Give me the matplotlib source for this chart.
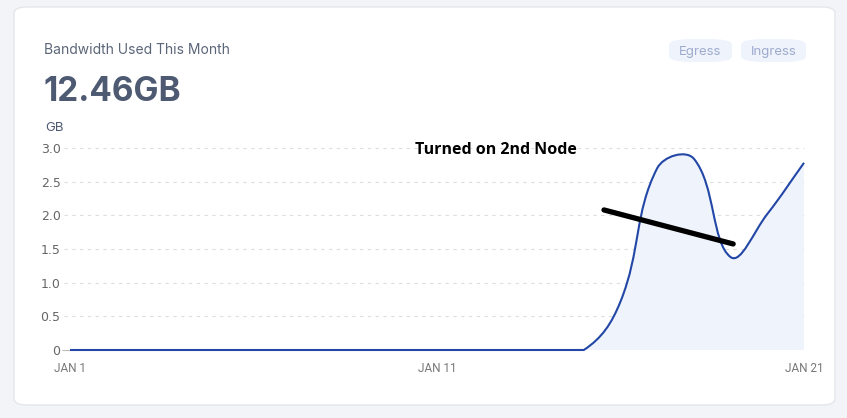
import numpy as np
import matplotlib.pyplot as plt
from matplotlib.path import Path
from matplotlib.patches import PathPatch, FancyBboxPatch

# daily bandwidth, GB (JAN 1 .. JAN 21)
days = list(range(1, 22))
daily_gb = [0, 0, 0, 0, 0, 0, 0, 0, 0, 0, 0, 0, 0, 0, 0,
            0.72, 2.70, 2.84, 1.38, 2.02, 2.78]
x_ticks = [1, 11, 21]
x_labels = ['JAN 1', 'JAN 11', 'JAN 21']
y_ticks = [0, 0.5, 1.0, 1.5, 2.0, 2.5, 3.0]
y_labels = ['0', '0.5', '1.0', '1.5', '2.0', '2.5', '3.0']
total_label = '12.46GB'
note_text = 'Turned on 2nd Node'
note_line_x = [15.55, 19.07]
note_line_y = [2.08, 1.575]

LINE = '#2247a6'
FILL = '#eff3fc'
GRAY = '#666666'

fig = plt.figure(figsize=(8.47, 4.18), dpi=100)
fig.patch.set_facecolor('#f3f4f8')

# card
card = FancyBboxPatch((14 / 847, 13 / 418), 821 / 847, 398 / 418,
                      boxstyle='round,pad=0,rounding_size=0.015',
                      transform=fig.transFigure, facecolor='white',
                      edgecolor='#e4e6ec', linewidth=1.0, zorder=-5)
fig.patches.append(card)

fig.text(44 / 847, 1 - 50 / 418, 'Bandwidth Used This Month', fontsize=10,
         color='#5c6679', family='Inter', va='center')
fig.text(43 / 847, 1 - 92 / 418, total_label, fontsize=24, fontweight='bold',
         color='#4e5a72', family='Inter', va='center')
fig.text(45 / 847, 1 - 128 / 418, 'GB', fontsize=9.5, color='#4e5a72',
         family='Inter', va='center')

# pill buttons
for label, x0, w in [('Egress', 669, 63), ('Ingress', 741, 65)]:
    pill = FancyBboxPatch((x0 / 847, 1 - 62 / 418), w / 847, 23 / 418,
                          boxstyle='round,pad=0,rounding_size=0.0275',
                          transform=fig.transFigure, facecolor='#eef3fc',
                          edgecolor='none', mutation_aspect=418 / 847,
                          zorder=-4)
    fig.patches.append(pill)
    fig.text((x0 + w / 2) / 847, 1 - 51.5 / 418, label, fontsize=9.5,
             color='#9eabcd', family='Inter', ha='center', va='center')

ax = fig.add_axes([70 / 847, 68 / 418, 734 / 847, 202 / 418])
ax.set_xlim(1, 21)
ax.set_ylim(0, 3.0)
for s in ax.spines.values():
    s.set_visible(False)
ax.set_facecolor('none')

ax.set_yticks(y_ticks)
ax.set_yticklabels(y_labels)
ax.set_xticks(x_ticks)
ax.set_xticklabels(x_labels)
ax.tick_params(axis='y', length=6, color='#bbbbbb', pad=0.8, labelsize=9,
               labelcolor=GRAY)
ax.tick_params(axis='x', length=0, pad=9, labelsize=8.5, labelcolor='#777777')
for lab in ax.get_xticklabels():
    lab.set_family(['Liberation Sans Narrow', 'Roboto'])
for i, t in enumerate(ax.yaxis.get_major_ticks()):
    if i > 0:
        t.tick1line.set_visible(False)
for y in y_ticks[1:]:
    ax.axhline(y, color='#dddddd', linestyle=(0, (3, 4)), linewidth=0.8,
               xmin=-0.008, zorder=0, clip_on=False)

# smooth line through daily points (tension spline, pixel space)
pts = ax.transData.transform(np.column_stack([days, daily_gb]))
tension = 0.4
n = len(pts)
cp_in = np.zeros_like(pts)
cp_out = np.zeros_like(pts)
for i in range(n):
    prev = pts[i - 1] if i > 0 else pts[i]
    nxt = pts[i + 1] if i < n - 1 else pts[i]
    d01 = np.hypot(*(pts[i] - prev))
    d12 = np.hypot(*(nxt - pts[i]))
    tot = d01 + d12
    s01 = d01 / tot if tot else 0
    s12 = d12 / tot if tot else 0
    cp_in[i] = pts[i] - tension * s01 * (nxt - prev)
    cp_out[i] = pts[i] + tension * s12 * (nxt - prev)
y0_pix = ax.transData.transform((1, 0))[1]
cp_in[:, 1] = np.maximum(cp_in[:, 1], y0_pix)
cp_out[:, 1] = np.maximum(cp_out[:, 1], y0_pix)

verts = [pts[0]]
codes = [Path.MOVETO]
for i in range(n - 1):
    verts += [cp_out[i], cp_in[i + 1], pts[i + 1]]
    codes += [Path.CURVE4] * 3
inv = ax.transData.inverted()
verts_d = inv.transform(np.array(verts))

line_path = Path(verts_d, codes)
fill_path = Path(np.vstack([verts_d, [[days[-1], 0], [days[0], 0], [days[0], 0]]]),
                 codes + [Path.LINETO, Path.LINETO, Path.CLOSEPOLY])
ax.add_patch(PathPatch(fill_path, facecolor=FILL, edgecolor='none', zorder=1))
ax.add_patch(PathPatch(line_path, facecolor='none', edgecolor=LINE,
                       linewidth=1.5, zorder=3, capstyle='butt',
                       clip_on=False))

# annotation
ax.plot(note_line_x, note_line_y, color='black', linewidth=3.8,
        solid_capstyle='round', zorder=4)
ax.text(12.6, 2.97, note_text, fontsize=11.5, fontweight='bold', color='black',
        family='Open Sans', ha='center', va='center', zorder=4)

fig.savefig('out.png', dpi=100, facecolor=fig.get_facecolor())
